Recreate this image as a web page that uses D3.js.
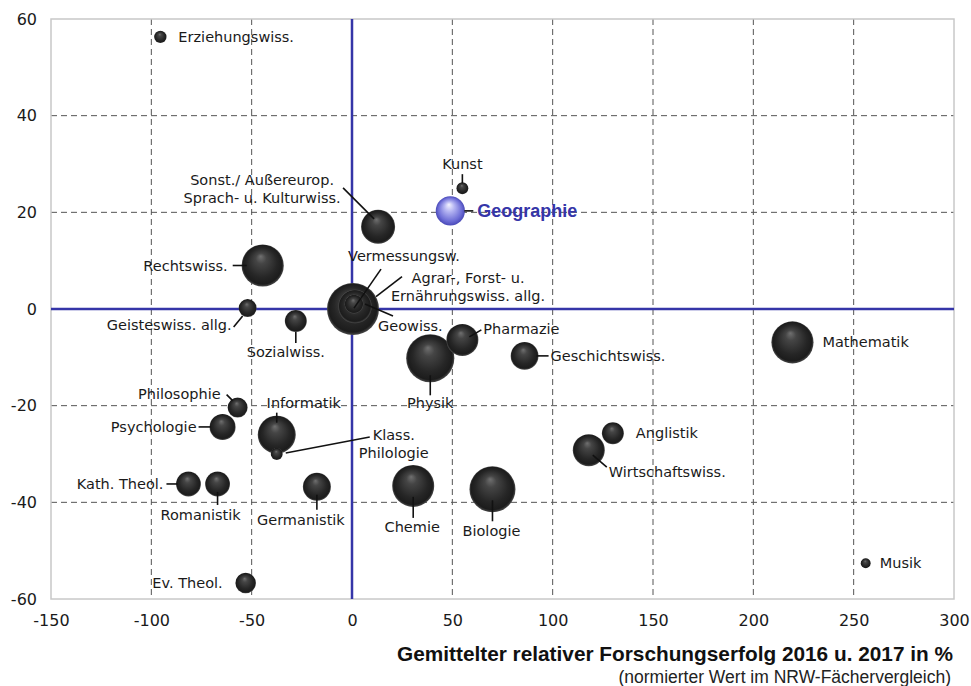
<!DOCTYPE html>
<html>
<head>
<meta charset="utf-8">
<script src="https://cdn.jsdelivr.net/npm/d3@7"></script>
<style>
    body { margin: 0; background: #fff; }
    svg text { font-family: "DejaVu Sans", Verdana, sans-serif; }
</style>
</head>
<body>
<svg class="main" width="971" height="686"></svg>
<script>
const subjects = ['Erziehungswiss.', 'Kunst', 'Geographie', 'Sonst./ Außereurop.', 'Rechtswiss.', 'Geisteswiss. allg.',
    'Sozialwiss.', 'Geowiss.', 'Agrar-', 'Vermessungsw.', 'Pharmazie', 'Physik', 'Geschichtswiss.', 'Mathematik',
    'Anglistik', 'Wirtschaftswiss.', 'Musik', 'Philosophie', 'Psychologie', 'Informatik', 'Klass. Philologie',
    'Kath. Theol.', 'Romanistik', 'Germanistik', 'Ev. Theol.', 'Chemie', 'Biologie'];
const xValues = [-95.5, 55, 49, 13, -44.5, -52, -28, 0.5, 1.5, 1, 55, 39, 86, 219.5,
    130, 118, 256, -57, -64.5, -37.5, -37.5, -81.5, -67, -17.5, -53, 30.5, 70];
const yValues = [56.3, 25, 20.3, 17, 9, 0.2, -2.5, 0, 0.5, 1, -6.4, -10.2, -9.7, -6.9,
    -25.7, -29.2, -52.6, -20.4, -24.4, -26, -30, -36.2, -36.2, -36.8, -56.7, -36.6, -37.3];
const sizes = [40, 37, 220, 300, 460, 84, 125, 700, 290, 90, 265, 600, 200, 460,
    125, 265, 26, 104, 175, 374, 37, 160, 160, 203, 110, 457, 548];
const xTicks = [-150, -100, -50, 0, 50, 100, 150, 200, 250, 300];
const yTicks = [-60, -40, -20, 0, 20, 40, 60];

// label placement, offsets from bubble centre in px
const labelLayout = {
    'Erziehungswiss.': { lines: ['Erziehungswiss.'], dx: 18, dy: 5, anchor: 'start' },
    'Kunst': { lines: ['Kunst'], dx: 0, dy: -19, anchor: 'middle', leader: [0, -14, 0, -5] },
    'Geographie': { lines: ['Geographie'], dx: 27, dy: 6, anchor: 'start', leader: [14, 0, 23, 0] },
    'Sonst./ Außereurop.': { lines: ['Sonst./ Außereurop.', 'Sprach- u. Kulturwiss.'], dx: -116, dy: -42, anchor: 'middle', leader: [-35, -39, -4, -8] },
    'Rechtswiss.': { lines: ['Rechtswiss.'], dx: -35, dy: 5, anchor: 'end', leader: [-30, 0, -16, 0] },
    'Geisteswiss. allg.': { lines: ['Geisteswiss. allg.'], dx: -16, dy: 22, anchor: 'end', leader: [-14, 19, -5, 8] },
    'Sozialwiss.': { lines: ['Sozialwiss.'], dx: -10, dy: 36, anchor: 'middle', leader: [0, 11, 0, 22] },
    'Geowiss.': { lines: ['Geowiss.'], dx: 25, dy: 22, anchor: 'start', leader: [12, -5, 40, 7] },
    'Agrar-': { lines: ['Agrar-, Forst- u.', 'Ernährungswiss. allg.'], dx: 113, dy: -24, anchor: 'middle', leader: [21, -10, 47, -30] },
    'Vermessungsw.': { lines: ['Vermessungsw.'], dx: 50, dy: -43, anchor: 'middle', leader: [0, 4, 27, -35] },
    'Pharmazie': { lines: ['Pharmazie'], dx: 21, dy: -6, anchor: 'start', leader: [7, -3, 19, -10] },
    'Physik': { lines: ['Physik'], dx: 0, dy: 50, anchor: 'middle', leader: [0, 17, 0, 37] },
    'Geschichtswiss.': { lines: ['Geschichtswiss.'], dx: 26, dy: 5, anchor: 'start', leader: [12, 0, 24, 0] },
    'Mathematik': { lines: ['Mathematik'], dx: 30, dy: 5, anchor: 'start' },
    'Anglistik': { lines: ['Anglistik'], dx: 23, dy: 5, anchor: 'start' },
    'Wirtschaftswiss.': { lines: ['Wirtschaftswiss.'], dx: 20, dy: 27, anchor: 'start', leader: [4, 5, 18, 17] },
    'Musik': { lines: ['Musik'], dx: 14, dy: 5, anchor: 'start' },
    'Philosophie': { lines: ['Philosophie'], dx: -17, dy: -9, anchor: 'end', leader: [-11, -13, -5, -7] },
    'Psychologie': { lines: ['Psychologie'], dx: -26, dy: 5, anchor: 'end', leader: [-24, 0, -12, 0] },
    'Informatik': { lines: ['Informatik'], dx: 27, dy: -27, anchor: 'middle', leader: [0, -22, 0, -12] },
    'Klass. Philologie': { lines: ['Klass.', 'Philologie'], dx: 117, dy: -14, anchor: 'middle', leader: [9, -1, 93, -17] },
    'Kath. Theol.': { lines: ['Kath. Theol.'], dx: -25, dy: 5, anchor: 'end', leader: [-22, 0, -11, 0] },
    'Romanistik': { lines: ['Romanistik'], dx: -17, dy: 36, anchor: 'middle', leader: [0, 8, 0, 21] },
    'Germanistik': { lines: ['Germanistik'], dx: -16, dy: 38, anchor: 'middle', leader: [0, 8, 0, 23] },
    'Ev. Theol.': { lines: ['Ev. Theol.'], dx: -23, dy: 5, anchor: 'end' },
    'Chemie': { lines: ['Chemie'], dx: -1, dy: 46, anchor: 'middle', leader: [0, 11, 0, 32] },
    'Biologie': { lines: ['Biologie'], dx: -1, dy: 47, anchor: 'middle', leader: [0, 11, 0, 32] }
};

const svg = d3.select('svg.main'),
    margin = { top: 19, right: 17, bottom: 87, left: 51 },
    width = 971 - margin.left - margin.right,
    height = 686 - margin.top - margin.bottom,
    blue = '#3535a8';

const x = d3.scaleLinear().domain([-150, 300]).range([0, width]),
    y = d3.scaleLinear().domain([-60, 60]).range([height, 0]),
    r = d3.scaleSqrt().domain([0, 700]).range([0, 26]);

const defs = svg.append('defs');

function sphereGradient(id, stops) {
    const g = defs.append('radialGradient')
        .attr('id', id)
        .attr('cx', '50%').attr('cy', '50%').attr('r', '50%')
        .attr('fx', '45%').attr('fy', '28%');
    stops.forEach(s => g.append('stop').attr('offset', s[0]).attr('stop-color', s[1]));
}

sphereGradient('ball-dark', [['0%', '#707070'], ['25%', '#454545'], ['70%', '#262626'], ['92%', '#1c1c1c'], ['100%', '#4a4a4a']]);
sphereGradient('ball-blue', [['0%', '#f4f4ff'], ['35%', '#b4b4f2'], ['80%', '#6d6dd6'], ['100%', '#4a4ab8']]);

const chart = svg.append('g').attr('transform', `translate(${margin.left},${margin.top})`);

// grid
chart.append('g').selectAll('line')
    .data(xTicks.filter(t => t !== 0 && t !== -150 && t !== 300))
    .join('line')
    .attr('x1', d => x(d)).attr('x2', d => x(d))
    .attr('y1', 0).attr('y2', height)
    .attr('stroke', '#555').attr('stroke-width', 1).attr('stroke-dasharray', '6,4');

chart.append('g').selectAll('line')
    .data(yTicks.filter(t => t !== 0 && t !== -60 && t !== 60))
    .join('line')
    .attr('x1', 0).attr('x2', width)
    .attr('y1', d => y(d)).attr('y2', d => y(d))
    .attr('stroke', '#555').attr('stroke-width', 1).attr('stroke-dasharray', '6,4');

chart.append('rect')
    .attr('width', width).attr('height', height)
    .attr('fill', 'none').attr('stroke', '#c8c8c8').attr('stroke-width', 1.5);

// zero lines
chart.append('line')
    .attr('x1', 0).attr('x2', width).attr('y1', y(0)).attr('y2', y(0))
    .attr('stroke', blue).attr('stroke-width', 2.5);
chart.append('line')
    .attr('x1', x(0)).attr('x2', x(0)).attr('y1', 0).attr('y2', height)
    .attr('stroke', blue).attr('stroke-width', 2.5);

// axes
const fmt = d => String(d);
const xAxis = chart.append('g')
    .attr('transform', `translate(0,${height})`)
    .call(d3.axisBottom(x).tickValues(xTicks).tickFormat(fmt).tickSize(0).tickPadding(16));
const yAxis = chart.append('g')
    .call(d3.axisLeft(y).tickValues(yTicks).tickFormat(fmt).tickSize(0).tickPadding(14));

[xAxis, yAxis].forEach(a => {
    a.select('.domain').remove();
    a.selectAll('text')
        .attr('font-size', 16)
        .attr('fill', '#1a1a1a')
        .style('font-family', '"DejaVu Sans", Verdana, sans-serif');
});

// data
const data = subjects.map((name, i) => ({ name: name, x: xValues[i], y: yValues[i], size: sizes[i] }));
const drawOrder = data.slice().sort((a, b) => b.size - a.size);

const dots = chart.selectAll('g.dataDots')
    .data(drawOrder)
    .join('g')
    .classed('dataDots', true)
    .attr('transform', d => `translate(${x(d.x)},${y(d.y)})`);

dots.append('circle')
    .attr('r', d => r(d.size))
    .attr('fill', d => d.name === 'Geographie' ? 'url(#ball-blue)' : 'url(#ball-dark)');

// labels with leader lines, on top of the bubbles
const labels = chart.selectAll('g.label')
    .data(data)
    .join('g')
    .classed('label', true)
    .attr('transform', d => `translate(${x(d.x)},${y(d.y)})`);

labels.filter(d => labelLayout[d.name].leader)
    .append('line')
    .attr('x1', d => labelLayout[d.name].leader[0])
    .attr('y1', d => labelLayout[d.name].leader[1])
    .attr('x2', d => labelLayout[d.name].leader[2])
    .attr('y2', d => labelLayout[d.name].leader[3])
    .attr('stroke', '#111')
    .attr('stroke-width', 1.6);

labels.append('text')
    .attr('text-anchor', d => labelLayout[d.name].anchor)
    .attr('font-size', d => d.name === 'Geographie' ? 18 : 14.5)
    .attr('font-weight', d => d.name === 'Geographie' ? 'bold' : 'normal')
    .attr('fill', d => d.name === 'Geographie' ? blue : '#1a1a1a')
    .style('font-family', d => d.name === 'Geographie' ? '"Liberation Sans", Arial, sans-serif' : null)
    .each(function (d) {
        const l = labelLayout[d.name];
        d3.select(this).selectAll('tspan')
            .data(l.lines)
            .join('tspan')
            .attr('x', l.dx)
            .attr('y', (t, i) => l.dy + i * 18)
            .text(t => t);
    });

// axis title
svg.append('text')
    .attr('x', 953).attr('y', 661)
    .attr('text-anchor', 'end')
    .attr('font-size', 20.8)
    .attr('font-weight', 'bold')
    .attr('fill', '#111')
    .style('font-family', '"Liberation Sans", Arial, sans-serif')
    .text('Gemittelter relativer Forschungserfolg 2016 u. 2017 in %');

svg.append('text')
    .attr('x', 951).attr('y', 683)
    .attr('text-anchor', 'end')
    .attr('font-size', 17.5)
    .attr('fill', '#222')
    .style('font-family', '"Liberation Sans", Arial, sans-serif')
    .text('(normierter Wert im NRW-Fächervergleich)');
</script>
</body>
</html>
